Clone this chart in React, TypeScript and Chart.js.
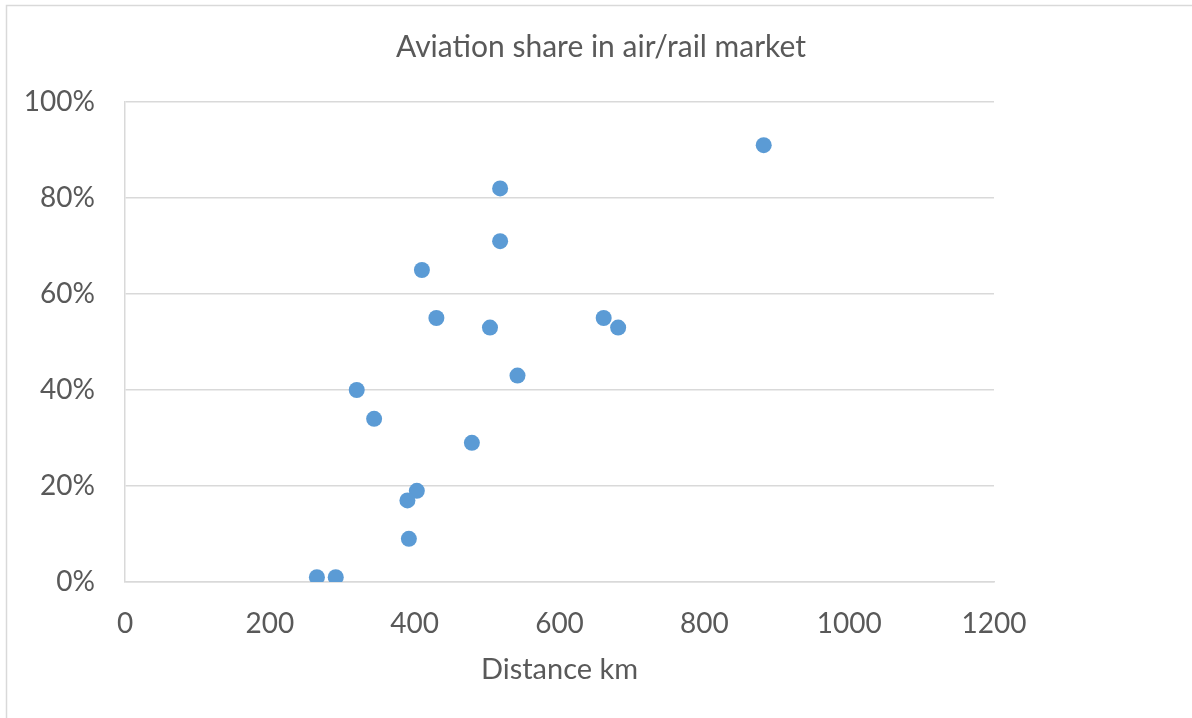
import React, { useEffect, useRef } from "react";
import { Chart, registerables } from "chart.js";

Chart.register(...registerables);

const distanceKm = [882, 518, 518, 410, 430, 504, 661, 681, 542, 320, 344, 479, 403, 390, 392, 265, 291];
const aviationSharePct = [91, 82, 71, 65, 55, 53, 55, 53, 43, 40, 34, 29, 19, 17, 9, 1, 1];
const xTicks = [0, 200, 400, 600, 800, 1000, 1200];
const yTicks = [0, 20, 40, 60, 80, 100];

const FONT = "Lato, 'Open Sans', sans-serif";
const GREY = "#595959";
const GRID = "#d9d9d9";

const borderPlugin = {
  id: "outerBorder",
  beforeDraw(chart: any) {
    const ctx = chart.ctx;
    ctx.save();
    ctx.fillStyle = "#ffffff";
    ctx.fillRect(0, 0, chart.width, chart.height);
    ctx.strokeStyle = GRID;
    ctx.lineWidth = 1.5;
    ctx.strokeRect(6.5, 5.5, 3000, 3000);
    ctx.restore();
  },
};

export default function App() {
  const ref = useRef<HTMLCanvasElement | null>(null);

  useEffect(() => {
    if (!ref.current) return;
    const points = distanceKm.map((x, i) => ({ x, y: aviationSharePct[i] }));
    const chart = new Chart(ref.current, {
      type: "scatter",
      data: {
        datasets: [
          {
            label: "Aviation share",
            data: points,
            backgroundColor: "#5b9bd5",
            borderColor: "#5b9bd5",
            borderWidth: 0,
            pointRadius: 8,
            pointHoverRadius: 8,
          },
        ],
      },
      options: {
        animation: false,
        responsive: false,
        layout: { padding: { left: 10, right: 0, top: 0, bottom: 0 } },
        plugins: {
          legend: { display: false },
          tooltip: { enabled: false },
          title: {
            display: true,
            text: "Aviation share in air/rail market",
            color: GREY,
            font: { family: FONT, size: 30, weight: "normal" as any },
            padding: { top: 29, bottom: 37 },
          },
        },
        scales: {
          x: {
            type: "linear",
            min: 0,
            max: 1200,
            afterBuildTicks: (s: any) => {
              s.ticks = xTicks.map((v) => ({ value: v }));
            },
            afterFit: (s: any) => {
              s.height = 136;
            },
            grid: { display: false, drawTicks: false },
            border: { display: true, color: GRID, width: 1.5 },
            ticks: {
              color: GREY,
              padding: 25,
              font: { family: FONT, size: 28 },
              maxRotation: 0,
              callback: (v: any) => String(v),
            },
            title: {
              display: true,
              text: "Distance km",
              color: GREY,
              font: { family: FONT, size: 29 },
              padding: { top: 0, bottom: 30.6 },
            },
          },
          y: {
            type: "linear",
            min: 0,
            max: 100,
            afterBuildTicks: (s: any) => {
              s.ticks = yTicks.map((v) => ({ value: v }));
            },
            afterFit: (s: any) => {
              s.width = 115;
            },
            grid: { color: GRID, lineWidth: 1.5, drawTicks: false },
            border: { display: true, color: GRID, width: 1.5 },
            ticks: {
              color: GREY,
              padding: 30,
              font: { family: FONT, size: 28 },
              callback: (v: any) => v + "%",
            },
          },
          y2: {
            type: "linear",
            position: "right",
            display: true,
            afterFit: (s: any) => {
              s.width = 198;
            },
            grid: { display: false, drawTicks: false },
            border: { display: false },
            ticks: { display: false },
          },
        },
      },
      plugins: [borderPlugin],
    });
    return () => chart.destroy();
  }, []);

  return (
    <div style={{ position: "fixed", left: 0, top: 0, width: 1192, height: 718 }}>
      <canvas ref={ref} width={1192} height={718} style={{ display: "block" }} />
    </div>
  );
}
